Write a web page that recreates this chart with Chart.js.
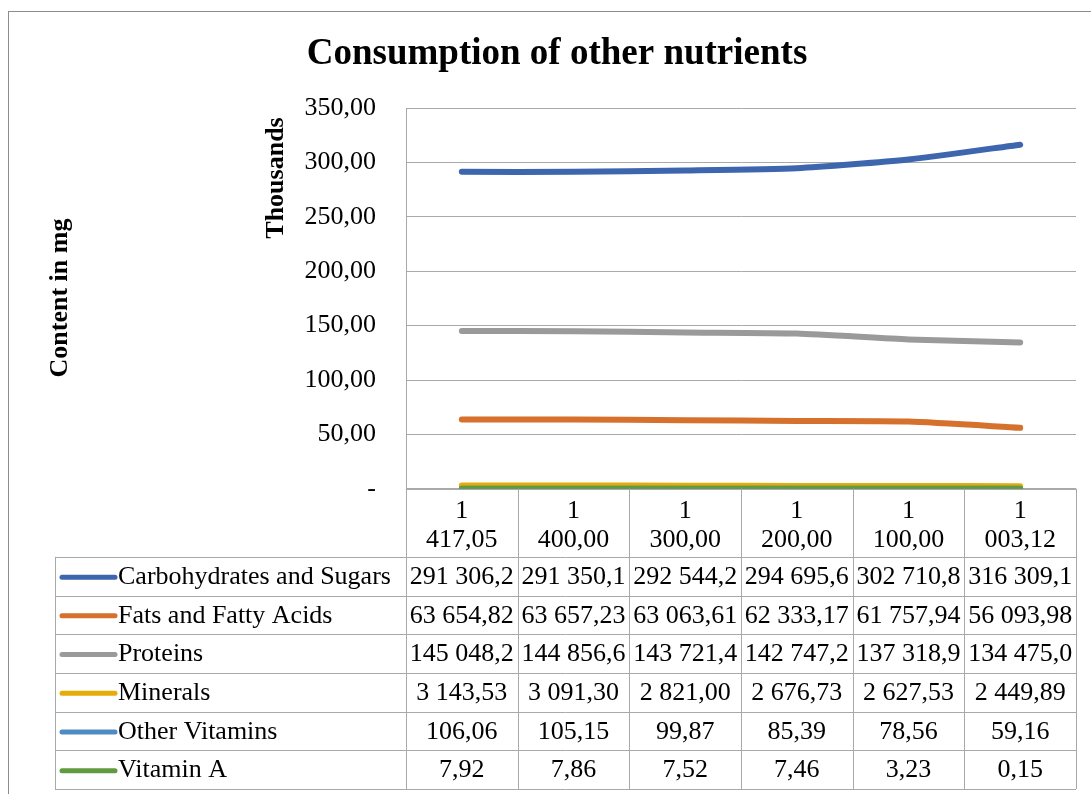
<!DOCTYPE html>
<html>
<head>
<meta charset="utf-8">
<script src="https://cdn.jsdelivr.net/npm/chart.js@4.4.0/dist/chart.umd.min.js"></script>
<style>
  body { margin: 0; background: #fff; }
  canvas { display: block; }
</style>
</head>
<body>
<canvas id="chart" width="1091" height="794"></canvas>
<script>
// categories (x axis), shown on two lines like the original
const categories = ["1 417,05", "1 400,00", "1 300,00", "1 200,00", "1 100,00", "1 003,12"];

// series values in mg
const carbs = [291306.2, 291350.1, 292544.2, 294695.6, 302710.8, 316309.1];
const fats = [63654.82, 63657.23, 63063.61, 62333.17, 61757.94, 56093.98];
const proteins = [145048.2, 144856.6, 143721.4, 142747.2, 137318.9, 134475.0];
const minerals = [3143.53, 3091.3, 2821.0, 2676.73, 2627.53, 2449.89];
const otherVitamins = [106.06, 105.15, 99.87, 85.39, 78.56, 59.16];
const vitaminA = [7.92, 7.86, 7.52, 7.46, 3.23, 0.15];

const seriesNames = ["Carbohydrates and Sugars", "Fats and Fatty Acids", "Proteins", "Minerals", "Other Vitamins", "Vitamin A"];
const seriesValues = [carbs, fats, proteins, minerals, otherVitamins, vitaminA];
const seriesColors = ["#3d66ae", "#d5702d", "#9a9a9a", "#e6ad0a", "#4f8bc3", "#619a3f"];

// y tick values (thousands)
const yTicks = [0, 50, 100, 150, 200, 250, 300, 350];

const FONT = "'Liberation Serif', 'Times New Roman', serif";
const LINE_GRAY = "#a9a9a9";

function fmtNum(v, dec) {
  let parts = v.toFixed(dec).split(".");
  parts[0] = parts[0].replace(/\B(?=(\d{3})+(?!\d))/g, " ");
  return parts.join(",");
}

// big numbers get cut to one decimal in the table, like in the sheet
function cellText(v) {
  return fmtNum(v, v >= 100000 ? 1 : 2);
}

const HEADER_H = 68;
const ROW_H = 38.7;
const LEGEND_LEFT = 55;

// draws the frame, titles and the data table under the plot
const decorPlugin = {
  id: "decor",
  beforeDraw(chart) {
    const ctx = chart.ctx;
    ctx.save();
    ctx.fillStyle = "#fff";
    ctx.fillRect(0, 0, chart.width, chart.height);
    ctx.strokeStyle = "#8c8c8c";
    ctx.lineWidth = 1;
    ctx.strokeRect(8.5, 11.5, 1100, 800);
    ctx.restore();
  },
  afterDraw(chart) {
    const ctx = chart.ctx;
    const area = chart.chartArea;
    const x = chart.scales.x;
    const half = (x.getPixelForValue(1) - x.getPixelForValue(0)) / 2;

    ctx.save();
    // title
    ctx.fillStyle = "#000";
    ctx.font = "bold 37px " + FONT;
    ctx.textAlign = "center";
    ctx.textBaseline = "middle";
    ctx.fillText("Consumption of other nutrients", 557, 54);

    // axis titles
    ctx.font = "bold 26px " + FONT;
    ctx.save();
    ctx.translate(276, 178);
    ctx.rotate(-Math.PI / 2);
    ctx.fillText("Thousands", 0, 0);
    ctx.restore();
    ctx.save();
    ctx.translate(60, 298);
    ctx.rotate(-Math.PI / 2);
    ctx.fillText("Content in mg", 0, 0);
    ctx.restore();

    // table grid
    const top = area.bottom;
    const rowsTop = top + HEADER_H;
    const bottom = rowsTop + ROW_H * seriesNames.length;
    const rightEdge = x.getPixelForValue(categories.length - 1) + half;
    ctx.strokeStyle = LINE_GRAY;
    ctx.lineWidth = 1;
    ctx.beginPath();
    for (let i = 0; i <= categories.length; i++) {
      const px = Math.round(x.getPixelForValue(i) - half) + 0.5;
      ctx.moveTo(px, top);
      ctx.lineTo(px, bottom);
    }
    ctx.moveTo(LEGEND_LEFT + 0.5, rowsTop);
    ctx.lineTo(LEGEND_LEFT + 0.5, bottom);
    for (let r = 0; r <= seriesNames.length; r++) {
      const py = Math.round(rowsTop + r * ROW_H) + 0.5;
      ctx.moveTo(LEGEND_LEFT, py);
      ctx.lineTo(rightEdge, py);
    }
    ctx.moveTo(area.left, Math.round(top) + 0.5);
    ctx.lineTo(rightEdge, Math.round(top) + 0.5);
    ctx.stroke();

    // rows: legend key, name, values
    ctx.font = "26px " + FONT;
    seriesNames.forEach((name, r) => {
      const cy = rowsTop + r * ROW_H + ROW_H / 2 + 1;
      ctx.strokeStyle = seriesColors[r];
      ctx.lineWidth = 5;
      ctx.lineCap = "round";
      ctx.beginPath();
      ctx.moveTo(62, cy);
      ctx.lineTo(115, cy);
      ctx.stroke();
      ctx.fillStyle = "#000";
      ctx.textAlign = "left";
      ctx.fillText(name, 118, cy);
      ctx.textAlign = "center";
      seriesValues[r].forEach((v, c) => {
        ctx.fillText(cellText(v), x.getPixelForValue(c), cy);
      });
    });
    ctx.restore();
  }
};

const order = [5, 4, 3, 2, 1, 0];

new Chart(document.getElementById("chart"), {
  type: "line",
  data: {
    labels: categories.map((c) => c.split(" ")),
    datasets: seriesNames.map((name, i) => ({
      label: name,
      data: seriesValues[i].map((v) => v / 1000),
      borderColor: seriesColors[i],
      backgroundColor: seriesColors[i],
      borderWidth: 6,
      borderCapStyle: "round",
      borderJoinStyle: "round",
      pointRadius: 0,
      tension: 0.2,
      order: order[i],
    })),
  },
  options: {
    responsive: false,
    animation: false,
    layout: { padding: { left: 0, top: 108, right: 15, bottom: 5 } },
    plugins: {
      legend: { display: false },
      title: { display: false },
      tooltip: { enabled: false },
    },
    scales: {
      x: {
        offset: true,
        grid: { display: false, drawTicks: false },
        border: { display: false },
        ticks: {
          color: "#000",
          font: { family: FONT, size: 26, lineHeight: 1.12 },
          padding: 8,
          maxRotation: 0,
          autoSkip: false,
        },
        afterFit(scale) {
          scale.height = HEADER_H + ROW_H * seriesNames.length;
        },
      },
      y: {
        min: 0,
        max: 350,
        afterBuildTicks(scale) {
          scale.ticks = yTicks.map((v) => ({ value: v }));
        },
        grid: { color: LINE_GRAY, drawTicks: false },
        border: { display: true, color: LINE_GRAY },
        ticks: {
          color: "#000",
          font: { family: FONT, size: 26 },
          padding: 30,
          callback: (v) => (v === 0 ? "-" : fmtNum(v, 2)),
        },
        afterFit(scale) {
          scale.width = 406;
        },
      },
    },
  },
  plugins: [decorPlugin],
});
</script>
</body>
</html>
